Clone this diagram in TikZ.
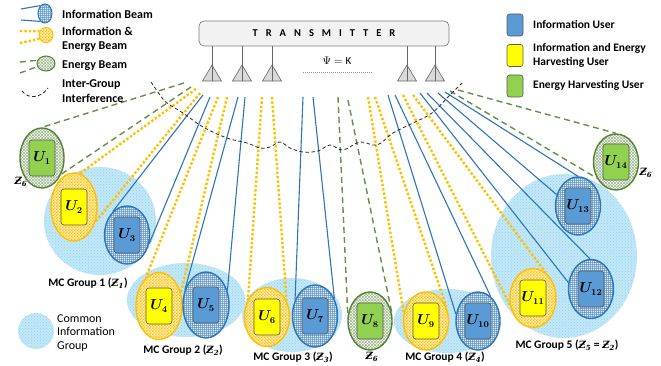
\documentclass[tikz,border=0pt]{standalone}
\usepackage{fontspec}
\usepackage{bm}
\setmainfont{Carlito}
\newfontfamily\zfont{DejaVu Serif}
\usetikzlibrary{patterns,shapes.geometric}
\definecolor{bblue}{HTML}{2E75B6}
\definecolor{borange}{HTML}{FFC000}
\definecolor{bgreen}{HTML}{548235}
\definecolor{ublue}{HTML}{5B9BD5}
\definecolor{uyellow}{HTML}{FFFF00}
\definecolor{ugreen}{HTML}{92D050}
\definecolor{grpblue}{HTML}{C4E8F8}
\definecolor{grpdot}{HTML}{8FD4F2}
\definecolor{txfill}{HTML}{F2F2F2}
\definecolor{antfillc}{HTML}{D9D9D9}
\pgfdeclarepatternformonly{finechecker}{\pgfpointorigin}{\pgfqpoint{2.8pt}{2.8pt}}{\pgfqpoint{2.8pt}{2.8pt}}{%
  \pgfpathrectangle{\pgfpointorigin}{\pgfqpoint{1.4pt}{1.4pt}}%
  \pgfpathrectangle{\pgfqpoint{1.4pt}{1.4pt}}{\pgfqpoint{1.4pt}{1.4pt}}%
  \pgfusepath{fill}}
\pgfdeclarepatternformonly{finegrid}{\pgfpointorigin}{\pgfqpoint{2.4pt}{2.4pt}}{\pgfqpoint{2.4pt}{2.4pt}}{%
  \pgfpathrectangle{\pgfpointorigin}{\pgfqpoint{0.7pt}{2.4pt}}%
  \pgfpathrectangle{\pgfpointorigin}{\pgfqpoint{2.4pt}{0.7pt}}%
  \pgfusepath{fill}}
\pgfdeclarepatternformonly{finecross}{\pgfqpoint{-0.5pt}{-0.5pt}}{\pgfqpoint{3.5pt}{3.5pt}}{\pgfqpoint{3pt}{3pt}}{%
  \pgfsetlinewidth{0.4pt}%
  \pgfpathmoveto{\pgfqpoint{0pt}{0pt}}\pgfpathlineto{\pgfqpoint{3pt}{3pt}}%
  \pgfpathmoveto{\pgfqpoint{0pt}{3pt}}\pgfpathlineto{\pgfqpoint{3pt}{0pt}}%
  \pgfusepath{stroke}}
\newcommand\ulab[1]{$\bm{U}_{\bm{#1}}$}
\newcommand\zlab[1]{{\zfont\bfseries\itshape\fontsize{10}{12}\selectfont Ƶ\textsubscript{#1}}}
\tikzset{
  grp/.style={ellipse, inner sep=0pt, preaction={fill=grpblue}, pattern=crosshatch dots, pattern color=grpdot},
  uell/.style={ellipse, inner sep=0pt, line width=1.4pt},
  orangeell/.style={uell, draw=borange, preaction={fill=borange!25!white}, pattern=finechecker, pattern color=borange},
  blueell/.style={uell, draw=bblue, preaction={fill=ublue!20!white}, pattern=finegrid, pattern color=bblue!80},
  greenell/.style={uell, draw=bgreen, preaction={fill=white}, pattern=finecross, pattern color=bgreen!55},
  urect/.style={rectangle, rounded corners=3pt, minimum width=26pt, minimum height=36pt, draw=black!65, line width=0.6pt, inner sep=0pt, font=\fontsize{13.5}{13.5}\selectfont},
  legrect/.style={rectangle, rounded corners=2.5pt, minimum width=16pt, minimum height=22pt, draw=black!65, line width=0.6pt, inner sep=0pt},
  bluebeam/.style={draw=bblue, line width=1.1pt},
  orangebeam/.style={draw=borange, line width=2.4pt, dash pattern=on 2.4pt off 2pt},
  greenbeam/.style={draw=bgreen!90, line width=1.4pt, dash pattern=on 6pt off 4pt},
  interf/.style={draw=black!85, line width=0.8pt, dash pattern=on 3.5pt off 2.5pt},
  legtxt/.style={anchor=west, align=left, inner sep=0pt, font=\bfseries\fontsize{12}{14.5}\selectfont},
  rlegtxt/.style={anchor=west, align=left, inner sep=0pt, font=\bfseries\fontsize{11.5}{13.5}\selectfont},
  grptxt/.style={inner sep=0pt, font=\bfseries\fontsize{11.5}{13}\selectfont},
  txbox/.style={rectangle, rounded corners=5pt, fill=txfill, draw=black!50, line width=0.7pt, minimum width=250pt, minimum height=25pt, font=\bfseries\fontsize{10.5}{12}\selectfont},
  antfill/.style={fill=antfillc, draw=black!60, line width=0.6pt},
  antline/.style={draw=black!60, line width=0.7pt}
}
\begin{document}
\begin{tikzpicture}[x=1pt,y=-1pt]
\useasboundingbox (0,0) rectangle (661,366);

% transmitter
\node[txbox] (tx) at (324,33.5) {T\hspace{8pt}R\hspace{8pt}A\hspace{8pt}N\hspace{8pt}S\hspace{8pt}M\hspace{8pt}I\hspace{8pt}T\hspace{8pt}T\hspace{8pt}E\hspace{8pt}R};
\foreach \i/\x in {1/212,2/242,3/272,4/407,5/435} {
  \coordinate (ant\i) at (\x,81);
  \filldraw[antfill] (ant\i) ++(-9.5,0) -- ++(9.5,-16) -- ++(9.5,16) -- cycle;
  \draw[antline] (tx.south -| ant\i) -- (ant\i);
}
\node[inner sep=0pt, font=\fontsize{11}{12}\selectfont] (psi) at (337,61) {$\Psi = \mathrm{K}$};
\coordinate (psiL) at (303,72);
\coordinate (psiR) at (373,72);
\draw[black!45, line width=0.8pt, dash pattern=on 1pt off 1pt] (psiL) -- (psiR);

% groups
\node[grp, minimum width=112pt, minimum height=108pt] (g1) at (100,221) {};
\node[grp, minimum width=118pt, minimum height=74pt] (g2) at (186,300) {};
\node[grp, minimum width=100pt, minimum height=74pt] (g3) at (292,315) {};
\node[grp, minimum width=106pt, minimum height=64pt] (g4) at (447,321) {};
\node[grp, minimum width=146pt, minimum height=164pt] (g5) at (564,256) {};

% users (ellipses)
\node[greenell, minimum width=44pt, minimum height=60pt] (e1) at (42,158) {};
\node[orangeell, minimum width=46pt, minimum height=68pt] (e2) at (74,207) {};
\node[blueell, minimum width=45pt, minimum height=58pt] (e3) at (127,235) {};
\node[orangeell, minimum width=46pt, minimum height=67pt] (e4) at (159,306) {};
\node[blueell, minimum width=46pt, minimum height=66pt] (e5) at (206,305) {};
\node[orangeell, minimum width=45pt, minimum height=59pt] (e6) at (267,317) {};
\node[blueell, minimum width=45pt, minimum height=62pt] (e7) at (315,316) {};
\node[greenell, minimum width=44pt, minimum height=58pt] (e8) at (370,321) {};
\node[orangeell, minimum width=45pt, minimum height=58pt] (e9) at (426,321) {};
\node[blueell, minimum width=44pt, minimum height=58pt] (e10) at (478,321) {};
\node[orangeell, minimum width=46pt, minimum height=59pt] (e11) at (533,298) {};
\node[blueell, minimum width=45pt, minimum height=59pt] (e12) at (591,289) {};
\node[blueell, minimum width=45pt, minimum height=58pt] (e13) at (578,206) {};
\node[greenell, minimum width=45pt, minimum height=56pt] (e14) at (616,162) {};

% beam tops
\coordinate (t1a) at (184,83);  \coordinate (t1b) at (191,87);
\coordinate (t2a) at (196,89);  \coordinate (t2b) at (200,93);
\coordinate (t3a) at (203,95);  \coordinate (t3b) at (210,97);
\coordinate (t4a) at (218,97);  \coordinate (t4b) at (227,97);
\coordinate (t5a) at (238,97);  \coordinate (t5b) at (245,97);
\coordinate (t6a) at (262,97);  \coordinate (t6b) at (272,97);
\coordinate (t7a) at (303,97);  \coordinate (t7b) at (313,97);
\coordinate (t8a) at (338,97);  \coordinate (t8b) at (348,100);
\coordinate (t9a) at (368,97);  \coordinate (t9b) at (375,97);
\coordinate (t10a) at (388,95); \coordinate (t10b) at (395,95);
\coordinate (t11a) at (403,95); \coordinate (t11b) at (413,95);
\coordinate (t12a) at (420,93); \coordinate (t12b) at (427,93);
\coordinate (t13a) at (438,93); \coordinate (t13b) at (445,92);
\coordinate (t14a) at (450,91); \coordinate (t14b) at (458,90);

% beams
\draw[greenbeam] (t1a) -- (e1.90);   \draw[greenbeam] (t1b) -- (e1.-40);
\draw[orangebeam] (t2a) -- (e2.80);  \draw[orangebeam] (t2b) -- (e2.-35);
\draw[bluebeam] (t3a) -- (e3.121);   \draw[bluebeam] (t3b) -- (e3.-21);
\draw[orangebeam] (t4a) -- (e4.115); \draw[orangebeam] (t4b) -- (e4.31);
\draw[bluebeam] (t5a) -- (e5.144);   \draw[bluebeam] (t5b) -- (e5.34);
\draw[orangebeam] (t6a) -- (e6.138); \draw[orangebeam] (t6b) -- (e6.40);
\draw[bluebeam] (t7a) -- (e7.141);   \draw[bluebeam] (t7b) -- (e7.42);
\draw[greenbeam] (t8a) -- (e8.165);  \draw[greenbeam] (t8b) -- (e8.20);
\draw[orangebeam] (t9a) -- (e9.160); \draw[orangebeam] (t9b) -- (e9.35);
\draw[bluebeam] (t10a) -- (e10.163); \draw[bluebeam] (t10b) -- (e10.63);
\draw[orangebeam] (t11a) -- (e11.197); \draw[orangebeam] (t11b) -- (e11.64);
\draw[bluebeam] (t12a) -- (e12.164); \draw[bluebeam] (t12b) -- (e12.92);
\draw[bluebeam] (t13a) -- (e13.152); \draw[bluebeam] (t13b) -- (e13.90);
\draw[greenbeam] (t14a) -- (e14.220); \draw[greenbeam] (t14b) -- (e14.90);

% inter-group interference
\draw[interf] plot[smooth, tension=0.6] coordinates {(151,82) (160,95) (167,103) (183,113) (203,127) (227,138) (247,143) (260,148) (270,147) (280,142) (290,148) (303,152) (318,151) (330,145) (343,150) (360,142) (377,145) (393,133) (413,123) (432,113) (448,97) (462,83)};

% user boxes
\node[urect, fill=ugreen] (r1) at (e1) {\ulab{1}};
\node[urect, fill=uyellow] (r2) at (e2) {\ulab{2}};
\node[urect, fill=ublue] (r3) at (e3) {\ulab{3}};
\node[urect, fill=uyellow] (r4) at (e4) {\ulab{4}};
\node[urect, fill=ublue] (r5) at (e5) {\ulab{5}};
\node[urect, fill=uyellow] (r6) at (e6) {\ulab{6}};
\node[urect, fill=ublue] (r7) at (e7) {\ulab{7}};
\node[urect, fill=ugreen] (r8) at (e8) {\ulab{8}};
\node[urect, fill=uyellow] (r9) at (e9) {\ulab{9}};
\node[urect, fill=ublue] (r10) at (e10) {\ulab{10}};
\node[urect, fill=uyellow] (r11) at (e11) {\ulab{11}};
\node[urect, fill=ublue] (r12) at (e12) {\ulab{12}};
\node[urect, fill=ublue] (r13) at (e13) {\ulab{13}};
\node[urect, fill=ugreen] (r14) at (e14) {\ulab{14}};

% z labels
\node[inner sep=0pt] (z1) at (21,182) {\zlab{6}};
\node[inner sep=0pt] (z8) at (372,357) {\zlab{6}};
\node[inner sep=0pt] (z14) at (646,173) {\zlab{6}};

% group labels
\node[grptxt] (l1) at (88,283) {MC Group 1 (\zlab{1})};
\node[grptxt] (l2) at (183,350) {MC Group 2 (\zlab{2})};
\node[grptxt] (l3) at (293,357) {MC Group 3 (\zlab{3})};
\node[grptxt] (l4) at (445,357) {MC Group 4 (\zlab{4})};
\node[grptxt] (l5) at (567,345) {MC Group 5 (\zlab{5} = \zlab{2})};

% left legend
\node[blueell, line width=1pt, minimum width=14pt, minimum height=19pt] (lgb) at (45,13.5) {};
\coordinate (lgb1) at (21,9); \coordinate (lgb2) at (21,20);
\draw[bluebeam] (lgb1) -- (lgb.120); \draw[bluebeam] (lgb2) -- (lgb.-120);
\node[orangeell, line width=1pt, minimum width=14pt, minimum height=15pt] (lgo) at (46,35) {};
\coordinate (lgo1) at (20,31); \coordinate (lgo2) at (20,43);
\draw[orangebeam] (lgo1) -- (lgo.150); \draw[orangebeam] (lgo2) -- (lgo.-150);
\node[greenell, line width=1pt, minimum width=18pt, minimum height=15pt] (lgg) at (46,63.5) {};
\coordinate (lgg1) at (20,62); \coordinate (lgg2) at (20,73);
\draw[greenbeam] (lgg1) -- (lgg.160); \draw[greenbeam] (lgg2) -- (lgg.-160);
\coordinate (lgi1) at (22,91); \coordinate (lgi2) at (48,88);
\draw[interf] (lgi1) .. controls (28,99) and (40,99) .. (lgi2);
\node[legtxt] (lt1) at (62,14) {Information Beam};
\node[legtxt] (lt2) at (62,39.5) {Information \&\\Energy Beam};
\node[legtxt] (lt3) at (62,66) {Energy Beam};
\node[legtxt] (lt4) at (62,91) {Inter-Group\\Interference};

\node[grp, circle, minimum size=36pt] (lgc) at (36,331) {};
\node[anchor=west, align=left, inner sep=0pt, font=\fontsize{12}{13.5}\selectfont] (lct) at (57,333) {Common\\Information\\Group};

% right legend
\node[legrect, fill=ublue] (lr1) at (515,25) {};
\node[rlegtxt] (rt1) at (533,25) {Information User};
\node[legrect, fill=uyellow] (lr2) at (515,55.5) {};
\node[rlegtxt] (rt2) at (533,55.5) {Information and Energy\\Harvesting User};
\node[legrect, fill=ugreen] (lr3) at (515,86) {};
\node[rlegtxt] (rt3) at (533,85) {Energy Harvesting User};
\end{tikzpicture}
\end{document}
